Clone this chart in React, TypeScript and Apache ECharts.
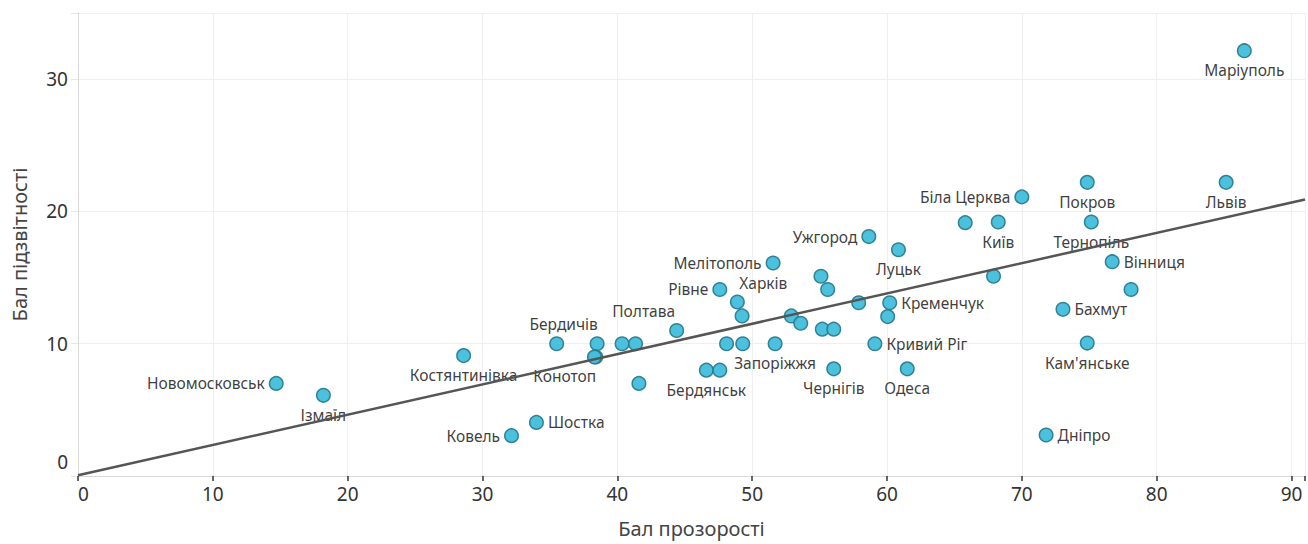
import React, { useEffect, useRef } from 'react';
import * as echarts from 'echarts';

// City names ('' = unlabeled point)
const cities: string[] = [
  'Новомосковськ', 'Ізмаїл', 'Костянтинівка', 'Бердичів', '', 'Конотоп', '',
  '', '', 'Полтава', '', 'Бердянськ', '', '', '', 'Запоріжжя',
  'Рівне', 'Харків', '', 'Мелітополь', '', '', 'Ужгород', 'Луцьк',
  '', '', '', '', '', 'Кременчук', '', 'Кривий Ріг', 'Чернігів', 'Одеса',
  '', 'Біла Церква', 'Київ', 'Покров', 'Львів', 'Тернопіль', 'Вінниця', '',
  '', 'Бахмут', 'Кам\'янське', 'Дніпро', 'Маріуполь', 'Ковель', 'Шостка',
];

// Бал прозорості (x)
const transparency: number[] = [
  14.7, 18.2, 28.6, 35.5, 38.5, 38.4, 38.3,
  40.35, 41.35, 44.4, 41.6, 46.6, 47.6, 48.1, 49.3, 51.7,
  47.6, 48.9, 49.25, 51.55, 55.1, 55.6, 58.65, 60.85,
  52.9, 53.6, 55.2, 56.05, 57.9, 60.2, 60.05, 59.1, 56.05, 61.5,
  65.8, 70.0, 68.25, 74.85, 85.15, 75.15, 76.7, 78.1,
  67.9, 73.05, 74.85, 71.8, 86.5, 32.15, 34.0,
];

// Бал підзвітності (y)
const accountability: number[] = [
  7.0, 6.1, 9.1, 10.0, 10.0, 9.0, 9.0,
  10.0, 10.0, 11.0, 7.0, 8.0, 8.0, 10.0, 10.0, 10.0,
  14.1, 13.15, 12.1, 16.1, 15.1, 14.1, 18.1, 17.1,
  12.1, 11.55, 11.1, 11.1, 13.1, 13.1, 12.05, 10.0, 8.1, 8.1,
  19.15, 21.1, 19.2, 22.2, 22.2, 19.2, 16.2, 14.1,
  15.1, 12.6, 10.05, 3.1, 32.15, 3.05, 4.05,
];

// Trend line end points
const trendX: number[] = [0, 91];
const trendY: number[] = [0.05, 20.9];

const xTicks: number[] = [0, 10, 20, 30, 40, 50, 60, 70, 80, 90];
const yTicks: number[] = [0, 10, 20, 30];

// Label placement (layout only)
const labelPlacement: Record<string, { position: string; dx?: number }> = {
  'Новомосковськ': { position: 'left' },
  'Ізмаїл': { position: 'bottom' },
  'Костянтинівка': { position: 'bottom' },
  'Бердичів': { position: 'top', dx: 7 },
  'Конотоп': { position: 'bottom', dx: -31 },
  'Полтава': { position: 'top', dx: -33 },
  'Бердянськ': { position: 'bottom' },
  'Запоріжжя': { position: 'bottom' },
  'Рівне': { position: 'left' },
  'Харків': { position: 'top', dx: 26 },
  'Мелітополь': { position: 'left' },
  'Ужгород': { position: 'left' },
  'Луцьк': { position: 'bottom' },
  'Кременчук': { position: 'right' },
  'Кривий Ріг': { position: 'right' },
  'Чернігів': { position: 'bottom' },
  'Одеса': { position: 'bottom' },
  'Біла Церква': { position: 'left' },
  'Київ': { position: 'bottom' },
  'Покров': { position: 'bottom' },
  'Львів': { position: 'bottom' },
  'Тернопіль': { position: 'bottom' },
  'Вінниця': { position: 'right' },
  'Бахмут': { position: 'right' },
  'Кам\'янське': { position: 'bottom' },
  'Дніпро': { position: 'right' },
  'Маріуполь': { position: 'bottom' },
  'Ковель': { position: 'left' },
  'Шостка': { position: 'right' },
};

const FONT = '"Noto Sans", sans-serif';

export default function App() {
  const ref = useRef<HTMLDivElement>(null);

  useEffect(() => {
    if (!ref.current) return;
    const chart = echarts.init(ref.current, null, { renderer: 'svg' });

    const scatterData = cities.map((name, i) => {
      const lay = labelPlacement[name];
      return {
        name,
        value: [transparency[i], accountability[i]],
        label: lay ? { show: true, position: lay.position } : { show: false },
      };
    });

    chart.setOption({
      animation: false,
      backgroundColor: '#ffffff',
      grid: { left: 78, top: 13, right: 0, bottom: 68, containLabel: false },
      xAxis: {
        type: 'value',
        min: 0,
        max: 91,
        interval: 10,
        name: 'Бал прозорості',
        nameLocation: 'middle',
        nameGap: 42,
        nameTextStyle: { fontFamily: FONT, fontSize: 20, color: '#444' },
        axisLine: { show: true, lineStyle: { color: '#d9d9d9', width: 1 } },
        axisTick: { show: true, length: 5, lineStyle: { color: '#333', width: 1.5 } },
        axisLabel: {
          fontFamily: FONT,
          fontSize: 19,
          color: '#333',
          margin: 8,
          alignMinLabel: 'left',
          formatter: (v: number) => (xTicks.includes(v) ? String(v) : ''),
        },
        splitLine: { show: true, lineStyle: { color: '#efefef', width: 1 } },
      },
      yAxis: {
        type: 'value',
        min: 0,
        max: 35,
        interval: 10,
        name: 'Бал підзвітності',
        nameLocation: 'middle',
        nameGap: 49,
        nameRotate: 90,
        nameTextStyle: { fontFamily: FONT, fontSize: 20, color: '#444' },
        axisLine: { show: true, lineStyle: { color: '#d9d9d9', width: 1 } },
        axisTick: { show: true, length: 7, lineStyle: { color: '#e6e6e6', width: 1 } },
        axisLabel: {
          fontFamily: FONT,
          fontSize: 19,
          color: '#333',
          margin: 10,
          verticalAlignMinLabel: 'bottom',
          formatter: (v: number) =>
            yTicks.includes(v) ? (v === 0 ? '{zero|0}' : String(v)) : '',
          rich: {
            zero: { fontFamily: FONT, fontSize: 19, color: '#333', padding: [0, 0, 5, 0] },
          },
        },
        splitLine: { show: true, lineStyle: { color: '#efefef', width: 1 } },
      },
      series: [
        {
          type: 'scatter',
          z: 2,
          symbol: 'circle',
          symbolSize: 13.5,
          itemStyle: {
            color: '#42BEDB',
            borderColor: '#2A7C8E',
            borderWidth: 1.5,
            opacity: 0.95,
          },
          label: {
            show: false,
            formatter: '{b}',
            fontFamily: FONT,
            fontSize: 15.5,
            color: '#333',
            distance: 4,
          },
          labelLayout: (p: any) => {
            const lay = labelPlacement[cities[p.dataIndex]];
            return lay && lay.dx ? { dx: lay.dx } : {};
          },
          data: scatterData,
        },
        {
          type: 'line',
          z: 5,
          showSymbol: false,
          symbol: 'none',
          silent: true,
          lineStyle: { color: '#555', width: 2.5 },
          data: trendX.map((x, i) => [x, trendY[i]]),
        },
      ],
    });

    return () => chart.dispose();
  }, []);

  return (
    <div
      ref={ref}
      style={{ position: 'fixed', left: 0, top: 0, width: 1308, height: 544, background: '#fff' }}
    />
  );
}
